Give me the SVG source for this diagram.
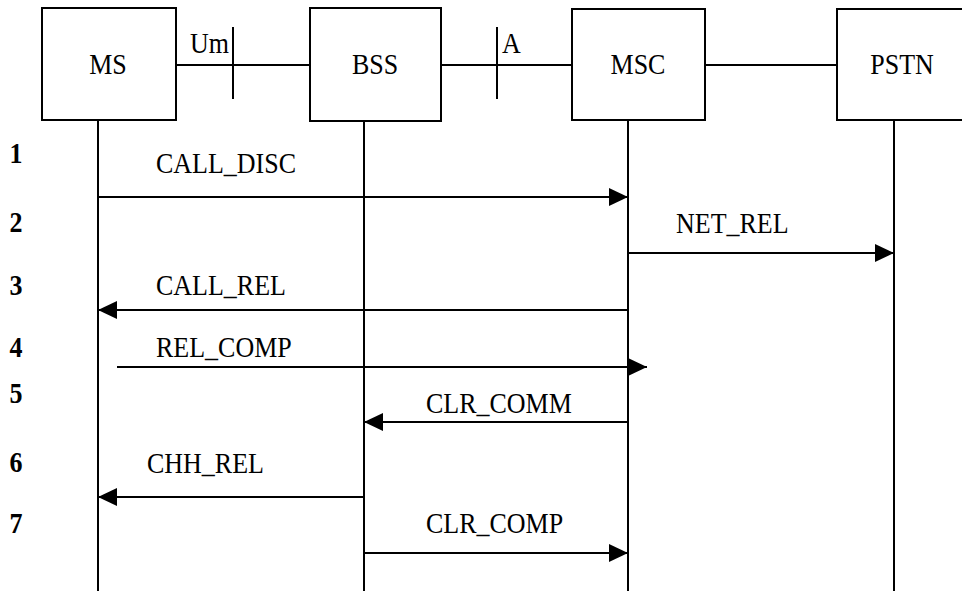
<svg xmlns="http://www.w3.org/2000/svg" width="962" height="591" viewBox="0 0 962 591">
  <style>
    .box { fill: #fff; stroke: #000; stroke-width: 2; }
    .ln { stroke: #000; stroke-width: 2; fill: none; }
    .msg { stroke: #000; stroke-width: 2; fill: none; marker-end: url(#head); }
    .t { font-family: "Liberation Serif", "Times New Roman", serif; font-size: 26px; fill: #000; }
    .n { font-family: "Liberation Serif", "Times New Roman", serif; font-size: 26px; font-weight: bold; fill: #000; text-anchor: middle; }
    .c { text-anchor: middle; }
  </style>
  <defs>
    <marker id="head" markerWidth="20" markerHeight="18" refX="19" refY="9" orient="auto" markerUnits="userSpaceOnUse">
      <path d="M0,0 L19,9 L0,18 Z" fill="#000"/>
    </marker>
  </defs>
  <rect width="962" height="591" fill="#fff"/>

  <!-- interfaces between the entities -->
  <g id="links">
    <line class="ln" x1="176" y1="65" x2="310" y2="65"/>
    <line class="ln" x1="441" y1="65" x2="572" y2="65"/>
    <line class="ln" x1="705" y1="65" x2="837" y2="65"/>
    <line class="ln" x1="233" y1="27" x2="233" y2="99"/>
    <line class="ln" x1="497" y1="27" x2="497" y2="99"/>
    <text class="t" transform="translate(190,53) scale(1,1.15)">Um</text>
    <text class="t" transform="translate(502,53) scale(1,1.15)">A</text>
  </g>

  <!-- lifelines -->
  <g id="lifelines">
    <line class="ln" x1="98" y1="120" x2="98" y2="591"/>
    <line class="ln" x1="364" y1="121" x2="364" y2="591"/>
    <line class="ln" x1="628" y1="120" x2="628" y2="591"/>
    <line class="ln" x1="894" y1="120" x2="894" y2="591"/>
  </g>

  <g id="ms">
    <rect class="box" x="42" y="8" width="134" height="112"/>
    <text class="t c" transform="translate(108,74) scale(1,1.15)">MS</text>
  </g>
  <g id="bss">
    <rect class="box" x="310" y="8" width="131" height="113"/>
    <text class="t c" transform="translate(375,74) scale(1,1.15)">BSS</text>
  </g>
  <g id="msc">
    <rect class="box" x="572" y="9" width="133" height="111"/>
    <text class="t c" transform="translate(638,74) scale(1,1.15)">MSC</text>
  </g>
  <g id="pstn">
    <rect class="box" x="837" y="9" width="132" height="111"/>
    <text class="t c" transform="translate(902,74) scale(1,1.15)">PSTN</text>
  </g>

  <!-- step numbers -->
  <g id="steps">
    <text class="n" transform="translate(16,163) scale(1,1.15)">1</text>
    <text class="n" transform="translate(16,232) scale(1,1.15)">2</text>
    <text class="n" transform="translate(16,295) scale(1,1.15)">3</text>
    <text class="n" transform="translate(16,357) scale(1,1.15)">4</text>
    <text class="n" transform="translate(16,403) scale(1,1.15)">5</text>
    <text class="n" transform="translate(16,472) scale(1,1.15)">6</text>
    <text class="n" transform="translate(16,533) scale(1,1.15)">7</text>
  </g>

  <!-- messages -->
  <g id="connectors">
    <line class="msg" x1="98" y1="197" x2="628" y2="197"/>
    <line class="msg" x1="628" y1="253" x2="894" y2="253"/>
    <line class="msg" x1="628" y1="310" x2="98" y2="310"/>
    <line class="msg" x1="117" y1="367" x2="647" y2="367"/>
    <line class="msg" x1="628" y1="422" x2="364" y2="422"/>
    <line class="msg" x1="364" y1="497" x2="98" y2="497"/>
    <line class="msg" x1="364" y1="553" x2="628" y2="553"/>
  </g>

  <g id="labels">
    <text class="t" transform="translate(156,173) scale(1,1.15)">CALL_DISC</text>
    <text class="t" transform="translate(676,233) scale(1,1.15)">NET_REL</text>
    <text class="t" transform="translate(156,295) scale(1,1.15)">CALL_REL</text>
    <text class="t" transform="translate(156,357) scale(1,1.15)">REL_COMP</text>
    <text class="t" transform="translate(426,413) scale(1,1.15)">CLR_COMM</text>
    <text class="t" transform="translate(147,473) scale(1,1.15)">CHH_REL</text>
    <text class="t" transform="translate(426,533) scale(1,1.15)">CLR_COMP</text>
  </g>
</svg>
